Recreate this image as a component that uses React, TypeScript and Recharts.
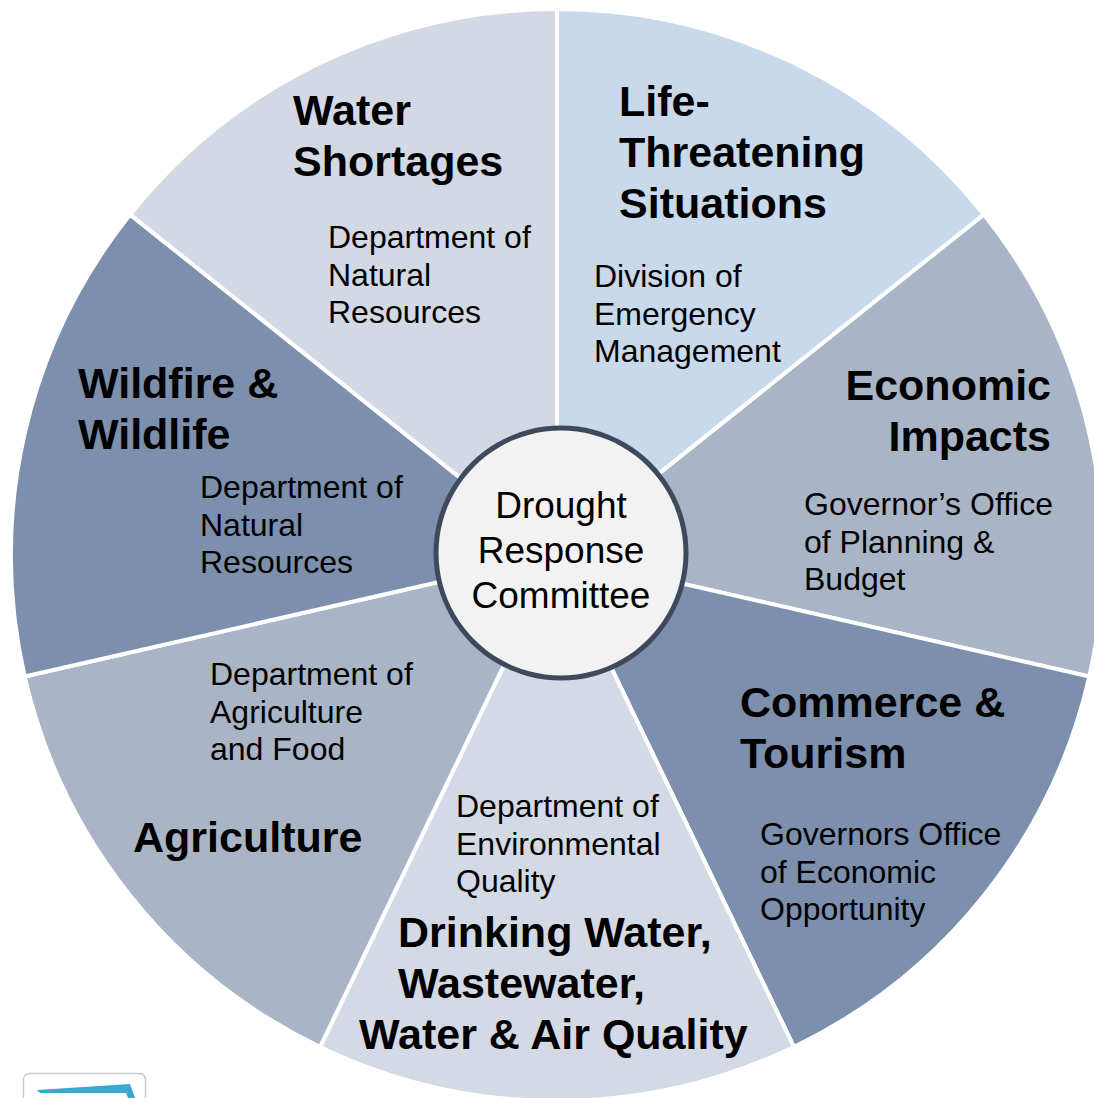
import React from "react";
import { PieChart, Pie, Cell } from "recharts";

const categories = [
  "Life-Threatening Situations",
  "Economic Impacts",
  "Commerce & Tourism",
  "Drinking Water, Wastewater, Water & Air Quality",
  "Agriculture",
  "Wildfire & Wildlife",
  "Water Shortages",
];
const sliceValues = [1, 1, 1, 1, 1, 1, 1];
const titleLines = [
  ["Life-", "Threatening", "Situations"],
  ["Economic", "Impacts"],
  ["Commerce &", "Tourism"],
  ["Drinking Water,", "Wastewater,", "Water & Air Quality"],
  ["Agriculture"],
  ["Wildfire &", "Wildlife"],
  ["Water", "Shortages"],
];
const agencyLines = [
  ["Division of", "Emergency", "Management"],
  ["Governor\u2019s Office", "of Planning &", "Budget"],
  ["Governors Office", "of Economic", "Opportunity"],
  ["Department of", "Environmental", "Quality"],
  ["Department of", "Agriculture", "and Food"],
  ["Department of", "Natural", "Resources"],
  ["Department of", "Natural", "Resources"],
];
const centerLines = ["Drought", "Response", "Committee"];

// styling / layout (kept separate from data)
const sliceColors = ["#c8d9ec", "#a9b5c7", "#7c8fad", "#d3dae5", "#a9b5c7", "#7c8fad", "#d3d9e4"];
const FONT = "'Liberation Sans', Arial, Helvetica, sans-serif";
const TITLE_SIZE = 43;
const TITLE_LH = 51;
const AGENCY_SIZE = 32;
const AGENCY_LH = 37.5;
// offsets relative to pie centre: [dx per line], dy of first baseline, anchor
const titleLayout: { dx: number[]; dy: number; anchor: "start" | "end" }[] = [
  { dx: [62], dy: -439, anchor: "start" },
  { dx: [494], dy: -155, anchor: "end" },
  { dx: [183], dy: 162, anchor: "start" },
  { dx: [-159, -159, -198], dy: 392, anchor: "start" },
  { dx: [-424], dy: 297, anchor: "start" },
  { dx: [-479], dy: -157, anchor: "start" },
  { dx: [-264], dy: -430, anchor: "start" },
];
const agencyLayout = [
  { dx: 37, dy: -268 },
  { dx: 247, dy: -40 },
  { dx: 203, dy: 290 },
  { dx: -101, dy: 262 },
  { dx: -347, dy: 130 },
  { dx: -357, dy: -57 },
  { dx: -229, dy: -307 },
];

const CX = 557;
const CY = 555;
const HUB_DX = 4;
const HUB_DY = -2;

const data = categories.map((name, i) => ({ name, value: sliceValues[i] }));
const centerData = [{ name: "Drought Response Committee", value: 1 }];

const renderSliceLabel = (props: any) => {
  const i = props.index as number;
  const cx = props.cx ?? CX;
  const cy = props.cy ?? CY;
  const t = titleLayout[i];
  const a = agencyLayout[i];
  return (
    <g key={`lbl-${i}`}>
      {titleLines[i].map((line, k) => (
        <text
          key={`t${k}`}
          x={cx + (t.dx[k] ?? t.dx[0])}
          y={cy + t.dy + k * TITLE_LH}
          textAnchor={t.anchor}
          fontFamily={FONT}
          fontWeight="bold"
          fontSize={TITLE_SIZE}
          fill="#000"
        >
          {line}
        </text>
      ))}
      {agencyLines[i].map((line, k) => (
        <text
          key={`a${k}`}
          x={cx + a.dx}
          y={cy + a.dy + k * AGENCY_LH}
          textAnchor="start"
          fontFamily={FONT}
          fontSize={AGENCY_SIZE}
          fill="#000"
        >
          {line}
        </text>
      ))}
    </g>
  );
};

const renderCenterLabel = (props: any) => {
  const cx = props.cx ?? CX + HUB_DX;
  const cy = props.cy ?? CY + HUB_DY;
  return (
    <g key="center">
      {centerLines.map((line, k) => (
        <text
          key={k}
          x={cx}
          y={cy - 35 + k * 45}
          textAnchor="middle"
          fontFamily={FONT}
          fontSize={37}
          fill="#000"
        >
          {line}
        </text>
      ))}
    </g>
  );
};

export default function App() {
  return (
    <div style={{ position: "absolute", left: 0, top: 0, width: 1094, height: 1098, background: "#fff", overflow: "hidden" }}>
      <PieChart width={1094} height={1098} margin={{ top: 0, right: 0, bottom: 0, left: 0 }}>
        <Pie
          data={data}
          dataKey="value"
          cx={CX}
          cy={CY}
          outerRadius={546}
          startAngle={90}
          endAngle={-270}
          stroke="#ffffff"
          strokeWidth={4}
          label={renderSliceLabel}
          labelLine={false}
          isAnimationActive={false}
        >
          {data.map((d, i) => (
            <Cell key={d.name} fill={sliceColors[i]} />
          ))}
        </Pie>
        <Pie
          data={centerData}
          dataKey="value"
          cx={CX + HUB_DX}
          cy={CY + HUB_DY}
          outerRadius={125}
          startAngle={90}
          endAngle={-270}
          stroke="none"
          fill="#f2f2f2"
          label={renderCenterLabel}
          labelLine={false}
          isAnimationActive={false}
        />
        <Pie
          data={centerData}
          dataKey="value"
          cx={CX + HUB_DX}
          cy={CY + HUB_DY}
          innerRadius={122.5}
          outerRadius={127.5}
          startAngle={90}
          endAngle={-270}
          stroke="none"
          fill="#3e4a5b"
          isAnimationActive={false}
        />
      </PieChart>
      <svg
        width={140}
        height={30}
        style={{ position: "absolute", left: 15, top: 1068 }}
      >
        <rect x={8.5} y={5.5} width={122} height={40} rx={6} fill="#fff" stroke="#c9c9c9" strokeWidth={1.5} />
        <polygon points="22,22 115,16 120,30 113,30 111,25 25,25" fill="#3ba7cf" />
      </svg>
    </div>
  );
}
